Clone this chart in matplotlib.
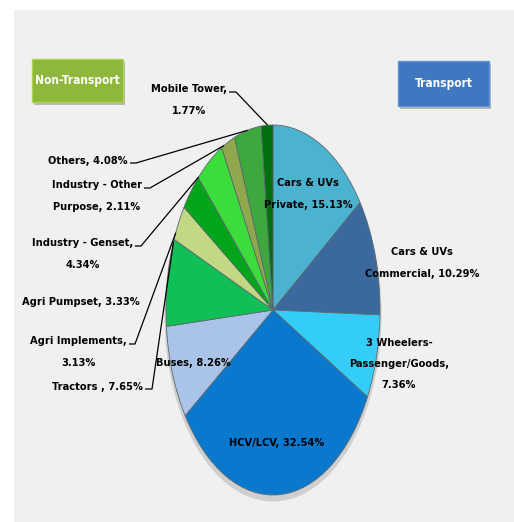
import numpy as np
import matplotlib
matplotlib.use("Agg")
import matplotlib.pyplot as plt
from matplotlib.patches import Rectangle, Ellipse

plt.rcParams['font.family'] = ['DejaVu Sans']
plt.rcParams['font.stretch'] = 'condensed'

# ---- data (clockwise from 12 o'clock) ----
categories = ["Cars & UVs Private", "Cars & UVs Commercial", "3 Wheelers-Passenger/Goods",
              "HCV/LCV", "Buses", "Tractors", "Agri Implements", "Agri Pumpset",
              "Industry - Genset", "Industry - Other Purpose", "Others", "Mobile Tower"]
shares = [15.13, 10.29, 7.36, 32.54, 8.26, 7.65, 3.13, 3.33, 4.34, 2.11, 4.08, 1.77]
label_texts = ["Cars & UVs\nPrivate, 15.13%", "Cars & UVs\nCommercial, 10.29%",
               "3 Wheelers-\nPassenger/Goods,\n7.36%", "HCV/LCV, 32.54%", "Buses, 8.26%",
               "Tractors , 7.65%", "Agri Implements,\n3.13%", "Agri Pumpset, 3.33%",
               "Industry - Genset,\n4.34%", "Industry - Other\nPurpose, 2.11%",
               "Others, 4.08%", "Mobile Tower,\n1.77%"]
colors = ["#4bb3d0", "#3b699e", "#33cdf8", "#0a78cc", "#a9c4e8", "#10bf55",
          "#c3d882", "#00a51a", "#3bdc3b", "#8fa84e", "#3ea83e", "#00700f"]

W, H = 514, 522
CX, CY, RX, RY = 273, 310, 107, 185

fig = plt.figure(figsize=(W / 100, H / 100), dpi=100)
fig.patch.set_facecolor("white")

ax = fig.add_axes([0, 0, 1, 1])
ax.set_facecolor("none")


def P(px, py):
    return (px - CX) / RX, (CY - py) / RY


# grey panel
x0, y0 = P(14, H)
x1, y1 = P(W, 10)
ax.add_patch(Rectangle((x0, y0), x1 - x0, y1 - y0, facecolor="#f0f0f0",
                       edgecolor="none", zorder=0))

# shadow under pie
ax.add_patch(Ellipse((0.0, -0.025), 2.03, 2.02, facecolor="#a8a8a8", edgecolor="none",
                     alpha=0.45, zorder=1))

wedges, _ = ax.pie(shares, colors=colors, startangle=90, counterclock=False,
                   wedgeprops=dict(edgecolor="#5a6a70", linewidth=0.6), frame=True)
ax.set_aspect("auto")
ax.set_xlim(-CX / RX, (W - CX) / RX)
ax.set_ylim(-(H - CY) / RY, CY / RY)
ax.axis("off")
for w in wedges:
    w.set_zorder(2)

fs = 7.9
txtkw = dict(fontsize=fs, fontweight="bold", color="black", va="center",
             linespacing=2.4, multialignment="center", zorder=5)

# label layout in pixels: (x, y, horizontal alignment)
label_pos = [(308, 194, "center"), (422, 263, "center"), (399, 364, "center"),
             (277, 443, "center"), (193, 363, "center"),
             (143, 387, "right"), (127, 352, "right"), (81, 302, "center"),
             (133, 254, "right"), (142, 196, "right"), (128, 161, "right"),
             (227, 100, "right")]
for t, (px, py, ha) in zip(label_texts, label_pos):
    ax.text(*P(px, py), t, ha=ha, **txtkw)

# leader lines: label tick (pixels) -> point on slice edge (fraction along slice, clockwise)
leaders = {5: ((145, 389), (152, 389), 0.97),
           6: ((129, 344), (135, 344), 0.2),
           8: ((135, 246), (141, 246), 0.02),
           9: ((144, 188), (150, 188), 0.2),
           10: ((130, 163), (136, 163), 0.5),
           11: ((229, 92), (236, 92), 0.55)}
for i, (a, b, f) in leaders.items():
    w = wedges[i]
    th1, th2 = w.theta1, w.theta2
    ang = np.deg2rad(th2 - f * (th2 - th1))
    ex, ey = np.cos(ang), np.sin(ang)
    xa, ya = P(*a)
    xb, yb = P(*b)
    ax.plot([xa, xb, ex], [ya, yb, ey], color="black", lw=0.9, zorder=6,
            solid_capstyle="butt")


def box(bx0, by0, bx1, by1, fc, ec, text):
    xa, ya = P(bx0, by1)
    xb, yb = P(bx1, by0)
    ax.add_patch(Rectangle((xa + 2 / RX, ya - 3 / RY), xb - xa, yb - ya,
                           facecolor="#b8b8b8", edgecolor="none", zorder=3))
    ax.add_patch(Rectangle((xa, ya), xb - xa, yb - ya, facecolor=fc, edgecolor=ec,
                           linewidth=1.0, zorder=4))
    ax.text((xa + xb) / 2, (ya + yb) / 2, text, fontsize=8.6, fontweight="bold",
            color="white", ha="center", va="center", zorder=5)


box(32, 59, 123, 102, "#8db83c", "#a9d44e", "Non-Transport")
box(398, 61, 489, 106, "#3f78c0", "#5b93d8", "Transport")

fig.savefig("out.png", dpi=100, facecolor=fig.get_facecolor())
